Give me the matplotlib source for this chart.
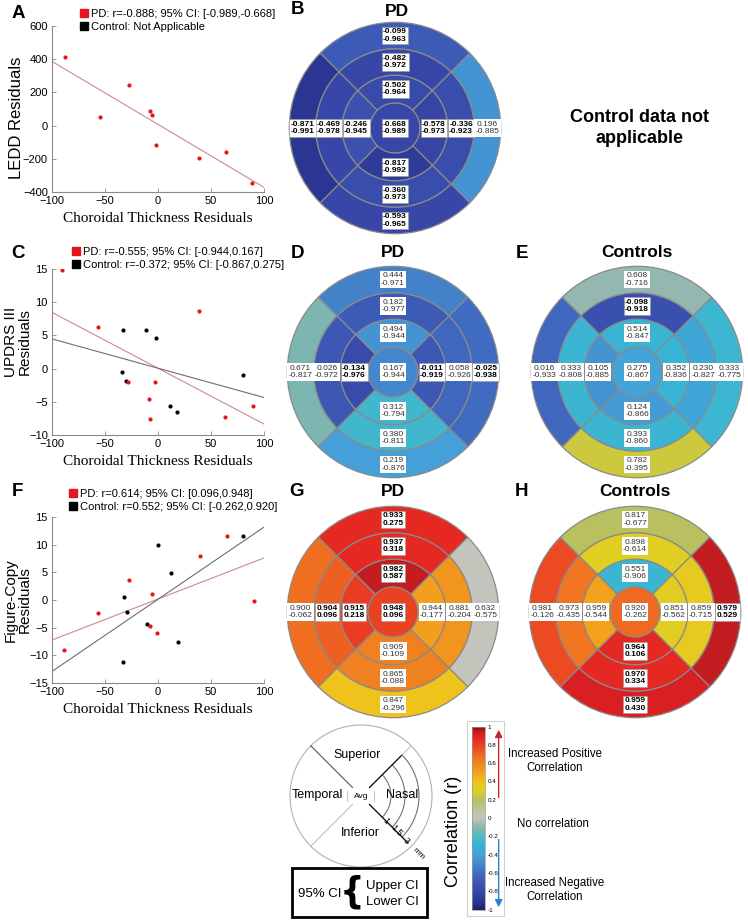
import numpy as np
import matplotlib.pyplot as plt
from matplotlib.colors import LinearSegmentedColormap
from matplotlib.lines import Line2D
from matplotlib.patches import Wedge, Circle, Rectangle, Arc

plt.rcParams["font.family"] = ["Liberation Sans", "DejaVu Sans"]

W, H = 748, 922  # canvas size in pixels (dpi 100)

# ---------------------------------------------------------------------------
# scatter data: choroidal thickness residuals vs clinical residuals
# ---------------------------------------------------------------------------
choroid_ledd_pd = [-88, -55, -27, -8, -6, -1.6, 39, 64, 89]
ledd_pd = [416, 50, 244, 86, 62, -118, -194, -158, -346]

choroid_updrs_pd = [-91, -57, -28.6, -8.9, -7.3, -2.5, 38.4, 63.5, 89.5]
updrs_pd = [14.9, 6.25, -1.95, -4.55, -7.65, -1.95, 8.75, -7.35, -5.6]
choroid_updrs_ctrl = [-34, -33, -30.5, -11.7, -1.6, 11.7, 17.5, 80]
updrs_ctrl = [-0.45, 5.75, -1.9, 5.75, 4.55, -5.6, -6.6, -0.95]

choroid_copy_pd = [-89, -56.2, -27.6, -7.9, -6, -1.3, 39.7, 65.4, 90.5]
copy_pd = [-8.95, -2.3, 3.6, -4.65, 1.06, -5.95, 7.9, 11.6, -0.1]
choroid_copy_ctrl = [-32.7, -32.4, -29.2, -10.8, -0.3, 12.4, 18.4, 80]
copy_ctrl = [-11.2, 0.6, -2.15, -4.35, 10, 4.8, -7.55, 11.6]

legend_ledd = ["PD: r=-0.888; 95% CI: [-0.989,-0.668]", "Control: Not Applicable"]
legend_updrs = ["PD: r=-0.555; 95% CI: [-0.944,0.167]",
                "Control: r=-0.372; 95% CI: [-0.867,0.275]"]
legend_copy = ["PD: r=0.614; 95% CI: [0.096,0.948]",
               "Control: r=0.552; 95% CI: [-0.262,0.920]"]

# ---------------------------------------------------------------------------
# sector maps: cell order = centre, then Superior / Nasal / Inferior / Temporal
# each as inner, middle, outer ring.  r = correlation (from cell colour)
# ---------------------------------------------------------------------------
SECTORS = ["Superior", "Nasal", "Inferior", "Temporal"]

ledd_pd_upper = [-0.668, -0.502, -0.482, -0.099, -0.578, -0.336, 0.196,
                 -0.817, -0.360, -0.593, -0.246, -0.469, -0.871]
ledd_pd_lower = [-0.989, -0.964, -0.972, -0.963, -0.973, -0.923, -0.885,
                 -0.992, -0.973, -0.965, -0.945, -0.978, -0.991]
ledd_pd_r = [-0.80, -0.78, -0.80, -0.68, -0.82, -0.76, -0.45,
             -0.88, -0.76, -0.80, -0.74, -0.80, -0.90]

updrs_pd_upper = [0.167, 0.494, 0.182, 0.444, -0.011, 0.058, -0.025,
                  0.312, 0.380, 0.219, -0.134, 0.026, 0.671]
updrs_pd_lower = [-0.944, -0.944, -0.977, -0.971, -0.919, -0.926, -0.938,
                  -0.794, -0.811, -0.876, -0.976, -0.972, -0.817]
updrs_pd_r = [-0.50, -0.45, -0.68, -0.52, -0.70, -0.62, -0.60,
              -0.25, -0.25, -0.40, -0.78, -0.70, -0.12]

updrs_ctrl_upper = [0.275, 0.514, -0.098, 0.608, 0.352, 0.230, 0.333,
                    0.124, 0.393, 0.782, 0.105, 0.333, 0.016]
updrs_ctrl_lower = [-0.867, -0.847, -0.918, -0.716, -0.836, -0.827, -0.775,
                    -0.866, -0.860, -0.395, -0.885, -0.808, -0.933]
updrs_ctrl_r = [-0.38, -0.28, -0.75, -0.08, -0.28, -0.36, -0.26,
                -0.42, -0.27, 0.25, -0.45, -0.27, -0.62]

copy_pd_upper = [0.948, 0.982, 0.937, 0.933, 0.944, 0.881, 0.632,
                 0.909, 0.865, 0.847, 0.915, 0.904, 0.900]
copy_pd_lower = [0.096, 0.587, 0.318, 0.275, -0.177, -0.204, -0.575,
                 -0.109, -0.088, -0.296, 0.218, 0.096, -0.062]
copy_pd_r = [0.80, 0.95, 0.88, 0.88, 0.52, 0.55, 0.02,
             0.62, 0.62, 0.40, 0.82, 0.72, 0.68]

copy_ctrl_upper = [0.920, 0.551, 0.898, 0.817, 0.851, 0.859, 0.979,
                   0.964, 0.970, 0.959, 0.959, 0.973, 0.981]
copy_ctrl_lower = [-0.262, -0.906, -0.614, -0.677, -0.562, -0.715, 0.529,
                   0.106, 0.334, 0.430, -0.544, -0.435, -0.126]
copy_ctrl_r = [0.70, -0.27, 0.32, 0.20, 0.33, 0.35, 0.95,
               0.88, 0.88, 0.92, 0.50, 0.66, 0.78]

CBAR_TICKS = [1, 0.8, 0.6, 0.4, 0.2, 0, -0.2, -0.4, -0.6, -0.8, -1]

RED, BLACK = "#e8141c", "black"
cmap = LinearSegmentedColormap.from_list("corr", [
    (0.00, "#221e6a"), (0.05, "#2c3894"), (0.10, "#3848a8"), (0.15, "#3c58b4"),
    (0.20, "#3f6cc0"), (0.25, "#4487cc"), (0.30, "#45a0d8"), (0.35, "#34b2d8"),
    (0.40, "#4cbcc4"), (0.45, "#8ab4ac"), (0.50, "#c4c4c4"), (0.55, "#c0c49a"),
    (0.60, "#b8c060"), (0.65, "#dcd024"), (0.70, "#f0c41c"), (0.75, "#f4a41c"),
    (0.80, "#f08820"), (0.85, "#f06a20"), (0.90, "#ea4222"), (0.95, "#e42222"),
    (0.975, "#c81e22"), (1.00, "#8a1010")])

fig = plt.figure(figsize=(W / 100, H / 100), dpi=100)


def box_axes(x0, y0, x1, y1):
    return fig.add_axes([x0 / W, 1 - y1 / H, (x1 - x0) / W, (y1 - y0) / H])


def ftext(x, y, s, **kw):
    return fig.text(x / W, 1 - y / H, s, **kw)


# ---------------------------------------------------------------------------
# scatter panels A, C, F
# ---------------------------------------------------------------------------
def scatter_panel(top, ylim, yticks, pd_xy, ctrl_xy, ylabel, ylab_x, ylab_y,
                  ylab_size, labels, leg_xy):
    ax = box_axes(52, top, 264, top + 166)
    x = np.array(pd_xy[0]); y = np.array(pd_xy[1])
    xx = np.array([-100, 100])
    k, b = np.polyfit(x, y, 1)
    ax.plot(xx, k * xx + b, color="#cf8a8a", lw=0.8, zorder=2)
    if ctrl_xy is not None:
        xc = np.array(ctrl_xy[0]); yc = np.array(ctrl_xy[1])
        kc, bc = np.polyfit(xc, yc, 1)
        ax.plot(xx, kc * xx + bc, color="#6e6e6e", lw=0.8, zorder=2)
        ax.scatter(xc, yc, s=9, color=BLACK, zorder=3, linewidths=0)
    ax.scatter(x, y, s=9, color=RED, zorder=3, linewidths=0)
    ax.set_xlim(-100, 100)
    ax.set_ylim(*ylim)
    ax.set_xticks([-100, -50, 0, 50, 100])
    ax.set_yticks(yticks)
    for s in ("top", "right"):
        ax.spines[s].set_visible(False)
    for s in ("left", "bottom"):
        ax.spines[s].set_color("#8a8a8a")
        ax.spines[s].set_linewidth(0.8)
    ax.tick_params(direction="in", length=3, width=0.6, color="#8a8a8a",
                   labelsize=8, pad=3)
    ax.set_xlabel("Choroidal Thickness Residuals", family="Liberation Serif",
                  fontsize=11, labelpad=4)
    ax.set_ylabel(ylabel, fontsize=ylab_size, linespacing=1.0)
    ax.yaxis.set_label_coords((ylab_x - 52) / 212, (top + 166 - ylab_y) / 166)
    handles = [Line2D([], [], marker="s", ls="none", color=RED, markersize=6),
               Line2D([], [], marker="s", ls="none", color=BLACK, markersize=6)]
    ax.legend(handles, labels, loc="upper left", frameon=False, fontsize=8,
              bbox_to_anchor=(leg_xy[0] / W, 1 - leg_xy[1] / H),
              bbox_transform=fig.transFigure, handlelength=0.7,
              handletextpad=0.25, labelspacing=0.3, borderpad=0, borderaxespad=0)
    return ax


scatter_panel(26, (-400, 600), range(-400, 601, 200),
              (choroid_ledd_pd, ledd_pd), None, "LEDD Residuals", 24, 118, 12,
              legend_ledd, (80, 9))
scatter_panel(269, (-10, 15), range(-10, 16, 5),
              (choroid_updrs_pd, updrs_pd), (choroid_updrs_ctrl, updrs_ctrl),
              "UPDRS III\nResiduals", 32, 342, 11, legend_updrs, (72, 247))
scatter_panel(517, (-15, 15), range(-15, 16, 5),
              (choroid_copy_pd, copy_pd), (choroid_copy_ctrl, copy_ctrl),
              "Figure-Copy\nResiduals", 32, 600, 11, legend_copy, (69, 489))

# ---------------------------------------------------------------------------
# sector maps B, D, E, G, H
# ---------------------------------------------------------------------------
RING_EDGES = [0.95, 2.0, 3.0, 4.0]
SECTOR_ANGLE = {"Superior": 90, "Nasal": 0, "Inferior": 270, "Temporal": 180}


def cell_label(ax, x, y, up, lo):
    bold = (up > 0) == (lo > 0)
    ax.text(x, y, f"{up:.3f}\n{lo:.3f}", ha="center", va="center", fontsize=6,
            fontweight="bold" if bold else "normal", linespacing=1.15,
            color="black" if bold else "#333333", zorder=5,
            bbox=dict(boxstyle="square,pad=0.18", fc="white",
                      ec="#9a9a9a" if bold else "none", lw=0.4))


def draw_map(cx, cy, r, upper, lower):
    ax = box_axes(cx - 111, cy - 111, cx + 111, cy + 111)
    ax.set_xlim(-4.2, 4.2)
    ax.set_ylim(-4.2, 4.2)
    ax.set_aspect("equal")
    ax.axis("off")
    ax.add_patch(Circle((0, 0), RING_EDGES[0], fc=cmap((r[0] + 1) / 2),
                        ec="#8a8a8a", lw=0.9))
    cell_label(ax, 0, 0, upper[0], lower[0])
    for k, sec in enumerate(SECTORS):
        ang = SECTOR_ANGLE[sec]
        for j in range(3):
            i = 1 + 3 * k + j
            rin, rout = RING_EDGES[j], RING_EDGES[j + 1]
            ax.add_patch(Wedge((0, 0), rout, ang - 45, ang + 45, width=rout - rin,
                               fc=cmap((r[i] + 1) / 2), ec="#8a8a8a", lw=0.9))
            rm = (rin + rout) / 2
            cell_label(ax, rm * np.cos(np.radians(ang)), rm * np.sin(np.radians(ang)),
                       upper[i], lower[i])
    return ax


draw_map(395, 128, ledd_pd_r, ledd_pd_upper, ledd_pd_lower)
draw_map(393, 372, updrs_pd_r, updrs_pd_upper, updrs_pd_lower)
draw_map(637, 372, updrs_ctrl_r, updrs_ctrl_upper, updrs_ctrl_lower)
draw_map(393, 612, copy_pd_r, copy_pd_upper, copy_pd_lower)
draw_map(635, 612, copy_ctrl_r, copy_ctrl_upper, copy_ctrl_lower)

# titles and panel letters
for x, y, s in [(397, 12, "PD"), (393, 252, "PD"), (637, 252, "Controls"),
                (393, 492, "PD"), (635, 492, "Controls")]:
    ftext(x, y, s, ha="center", va="center", fontsize=12.5, fontweight="bold")
for x, y, s in [(18, 13, "A"), (297, 10, "B"), (18, 253, "C"), (297, 253, "D"),
                (522, 253, "E"), (17, 491, "F"), (297, 492, "G"), (521, 492, "H")]:
    ftext(x, y, s, ha="center", va="center", fontsize=13.5, fontweight="bold")

ftext(640, 128, "Control data not\napplicable", ha="center", va="center",
      fontsize=13, fontweight="bold", linespacing=1.25)

# ---------------------------------------------------------------------------
# schematic of the sectors
# ---------------------------------------------------------------------------
sx = box_axes(281, 716, 441, 876)
sx.set_xlim(-80, 80)
sx.set_ylim(-80, 80)
sx.set_aspect("equal")
sx.axis("off")
R = 71
sx.add_patch(Circle((0, 0), R, fill=False, ec="#b0b0b0", lw=0.8))
d = np.cos(np.radians(45))
sx.plot([-12 * d, -R * d], [12 * d, R * d], color="#555555", lw=0.8)
sx.plot([-12 * d, -R * d], [-12 * d, -R * d], color="#c0c0c0", lw=0.8)
sx.plot([12 * d, 58 * d], [12 * d, 58 * d], color="black", lw=0.9)
sx.plot([58 * d, R * d], [58 * d, R * d], color="#c0c0c0", lw=0.8)
sx.plot([12 * d, 66 * d], [-12 * d, -66 * d], color="black", lw=0.9)
for rr in (30, 44, 58):
    sx.add_patch(Arc((0, 0), 2 * rr, 2 * rr, theta1=-45, theta2=45,
                     color="#707070", lw=0.8))
for rr, s in [(30, "1"), (44, "1.5"), (58, "3"), (76, "mm")]:
    sx.text(rr * d + 4, -rr * d - 4, s, rotation=-45, ha="center", va="center",
            fontsize=6.5 if s != "mm" else 6)
sx.plot([-14, -14], [-5, 5], color="#c8c8c8", lw=0.8)
sx.plot([13, 13], [-5, 5], color="#c8c8c8", lw=0.8)
sx.text(0, 0, "Avg", ha="center", va="center", fontsize=6)
sx.text(-4, 41, "Superior", ha="center", va="center", fontsize=9)
sx.text(-44, 1, "Temporal", ha="center", va="center", fontsize=9)
sx.text(41, 1, "Nasal", ha="center", va="center", fontsize=9)
sx.text(-1, -37, "Inferior", ha="center", va="center", fontsize=9)

# 95% CI key
fig.add_artist(Rectangle((292 / W, 1 - 917 / H), 135 / W, 49 / H,
                         transform=fig.transFigure, fill=False, ec="black", lw=2))
ftext(320, 894, "95% CI", ha="center", va="center", fontsize=9.5)
ftext(352, 892, "{", ha="center", va="center", fontsize=25, fontweight="bold",
      family="DejaVu Sans")
ftext(366, 886, "Upper CI", ha="left", va="center", fontsize=9.5)
ftext(366, 902, "Lower CI", ha="left", va="center", fontsize=9.5)

# ---------------------------------------------------------------------------
# colour bar
# ---------------------------------------------------------------------------
fig.add_artist(Rectangle((467 / W, 1 - 916 / H), 37 / W, 195 / H,
                         transform=fig.transFigure, fill=False, ec="#d0d0d0", lw=0.8))
cax = box_axes(472, 727, 485, 910)
cax.imshow(np.linspace(1, -1, 256)[:, None], aspect="auto", cmap=cmap,
           vmin=-1, vmax=1, extent=[0, 1, -1, 1])
cax.set_xlim(0, 1)
cax.set_ylim(-1, 1)
cax.set_xticks([])
cax.set_yticks([])
for s in cax.spines.values():
    s.set_linewidth(0.5)
    s.set_color("#999999")
for v in CBAR_TICKS:
    cax.text(1.2, v, f"{v:g}", fontsize=4.5, va="center", ha="left", clip_on=False)
cax.annotate("", xy=(2.05, 1.0), xytext=(2.05, 0.2), annotation_clip=False,
             arrowprops=dict(arrowstyle="-|>", color="#c0282d", lw=1.0,
                             mutation_scale=11))
cax.annotate("", xy=(2.05, -1.0), xytext=(2.05, -0.2), annotation_clip=False,
             arrowprops=dict(arrowstyle="-|>", color="#2a7fc8", lw=1.0,
                             mutation_scale=11))

ftext(453, 831, "Correlation (r)", rotation=90, ha="center", va="center", fontsize=13)
ftext(555, 761, "Increased Positive\nCorrelation", ha="center", va="center",
      fontsize=8.3, linespacing=1.3)
ftext(553, 824, "No correlation", ha="center", va="center", fontsize=8.3)
ftext(555, 890, "Increased Negative\nCorrelation", ha="center", va="center",
      fontsize=8.3, linespacing=1.3)

fig.savefig("out.png", dpi=100)
